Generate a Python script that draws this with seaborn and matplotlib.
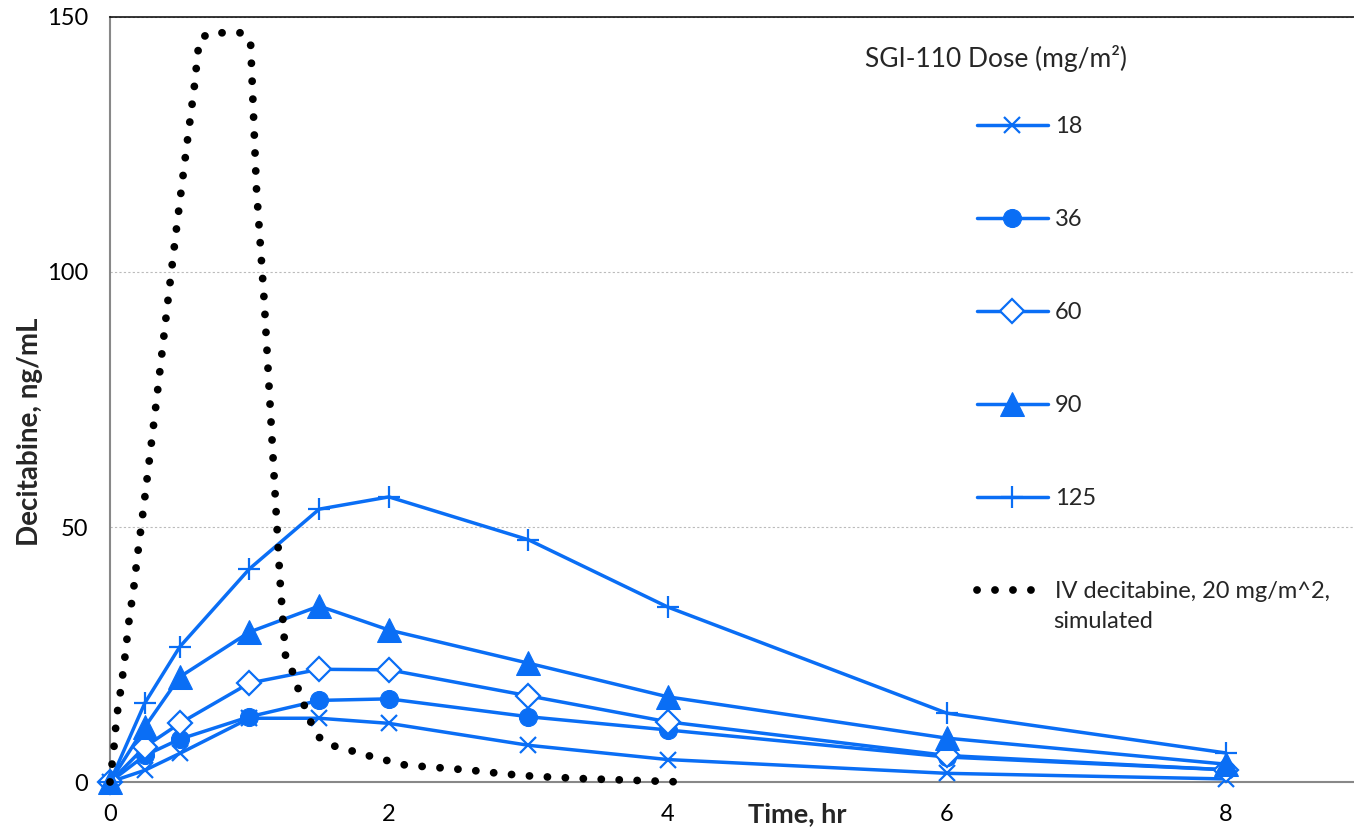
import matplotlib
matplotlib.use("Agg")
import matplotlib.pyplot as plt
import seaborn as sns
import pandas as pd

# ---- data ----
time_hr = [0, 0.25, 0.5, 1, 1.5, 2, 3, 4, 6, 8]
dose_18 = [0, 2.3, 5.6, 12.5, 12.5, 11.5, 7.2, 4.4, 1.7, 0.6]
dose_36 = [0, 5.2, 8.4, 12.8, 16.0, 16.3, 12.8, 10.2, 4.9, 2.4]
dose_60 = [0, 6.9, 11.5, 19.4, 22.1, 22.0, 16.9, 11.8, 5.2, 2.4]
dose_90 = [0, 10.8, 20.6, 29.4, 34.5, 29.8, 23.3, 16.7, 8.6, 3.5]
dose_125 = [0, 15.5, 26.5, 41.8, 53.5, 55.9, 47.5, 34.3, 13.5, 5.7]

iv_time = [0, 0.027, 0.047, 0.082, 0.110, 0.137, 0.170, 0.197, 0.227, 0.255,
           0.33, 0.418, 0.473, 0.545, 0.604, 0.64, 0.717, 0.836, 0.951, 1.008,
           1.05, 1.106, 1.178, 1.219, 1.26, 1.315, 1.35, 1.43, 1.49, 1.56,
           1.67, 1.90, 2.12, 2.36, 2.59, 2.82, 3.05, 3.40, 3.75, 4.1]
iv_conc = [0, 6.4, 12.6, 19.0, 25.2, 31.8, 38.0, 44.4, 50.8, 57.0,
           74.0, 95.0, 107.7, 123.6, 136.2, 145.6, 146.9, 146.9, 146.9, 145.0,
           116.5, 94.2, 59.3, 39.6, 24.2, 21.3, 18.2, 12.3, 9.0, 7.4,
           6.6, 4.8, 3.3, 2.8, 2.3, 1.6, 1.1, 0.65, 0.33, 0]

dose_labels = ["18", "36", "60", "90", "125"]
iv_label = "IV decitabine, 20 mg/m^2,"
legend_title = "SGI-110 Dose (mg/m\u00b2)"
x_ticks = [0, 2, 4, 6, 8]
y_ticks = [0, 50, 100, 150]

# ---- style ----
sns.set_theme(style="white")
plt.rcParams["font.family"] = ["Lato", "DejaVu Sans"]
BLUE = "#0A6EF5"

fig = plt.figure(figsize=(13.54, 8.3), dpi=100)
ax = fig.add_axes([110 / 1354, 1 - 782 / 830, 1 - 110 / 1354, (782 - 17) / 830])

series = [dose_18, dose_36, dose_60, dose_90, dose_125]
styles = [
    dict(marker="x", markersize=12, markeredgewidth=1.6),
    dict(marker="o", markersize=13),
    dict(marker="D", markersize=12, markerfacecolor="white", markeredgewidth=1.6),
    dict(marker="^", markersize=17),
    dict(marker="+", markersize=16, markeredgewidth=1.6),
]
for vals, lab, st in zip(series, dose_labels, styles):
    df = pd.DataFrame({"t": time_hr, "c": vals})
    sns.lineplot(data=df, x="t", y="c", ax=ax, color=BLUE, linewidth=2.5,
                 label=lab, markeredgecolor=BLUE, clip_on=False, zorder=3,
                 sort=False, **st)

iv_df = pd.DataFrame({"t": iv_time, "c": iv_conc})
sns.lineplot(data=iv_df, x="t", y="c", ax=ax, color="black", linewidth=5.6,
             linestyle=(0, (0.01, 2.3)), dash_capstyle="round",
             label=iv_label, sort=False, zorder=4, clip_on=False)

ax.set_xlim(0, 8.92)
ax.set_ylim(0, 150)
ax.set_xticks(x_ticks)
ax.set_yticks(y_ticks)
ax.tick_params(axis="both", labelsize=17, colors="#888888", length=7, width=1.2,
               labelcolor="black", direction="out")
ax.tick_params(axis="y", pad=9)
ax.tick_params(axis="x", pad=9)

for s in ["left", "bottom"]:
    ax.spines[s].set_color("#888888")
    ax.spines[s].set_linewidth(1.5)
ax.spines["right"].set_visible(False)
ax.spines["top"].set_color("black")
ax.spines["top"].set_linewidth(1.1)

ax.yaxis.grid(True, color="#BBBBBB", linewidth=0.8, linestyle=(0, (2, 2)))
ax.xaxis.grid(False)

ax.set_xlabel("Time, hr", fontsize=19.5, fontweight="bold")
ax.xaxis.set_label_coords((797 - 110) / 1244, (782 - 802) / 765)
ax.set_ylabel("Decitabine, ng/mL", fontsize=20, fontweight="bold")
ax.yaxis.set_label_coords(-(110 - 43) / 1244, (782 - 432) / 765)

leg = ax.legend(loc="upper left", bbox_to_anchor=(977 / 1354, 1 - 116 / 830),
                bbox_transform=fig.transFigure, frameon=False, fontsize=17,
                handlelength=3.0, handletextpad=0.3, labelspacing=3.05,
                borderpad=0, borderaxespad=0)

fig.text(865 / 1354, 1 - 58 / 830, legend_title, fontsize=19, va="center", ha="left")
fig.text(1053 / 1354, 1 - 621 / 830, "simulated", fontsize=17, va="center", ha="left")

fig.savefig("out.png", dpi=100)
